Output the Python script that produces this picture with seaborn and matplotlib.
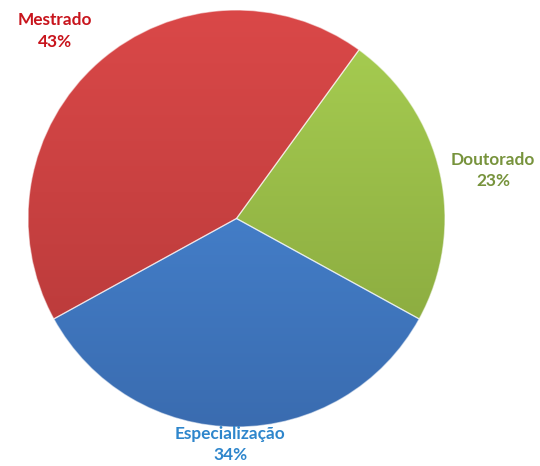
import numpy as np
import matplotlib
matplotlib.use("Agg")
import matplotlib.pyplot as plt
import seaborn as sns
from matplotlib.colors import LinearSegmentedColormap

categories = ["Doutorado", "Especialização", "Mestrado"]
values = [23, 34, 43]
labels = [f"{c}\n{v}%" for c, v in zip(categories, values)]

top_colors = ["#A8CF52", "#4C8EDE", "#DA4848"]
bottom_colors = ["#84A23B", "#3A6CB0", "#B33838"]
text_colors = ["#77933C", "#2E86CC", "#C8141C"]
label_pos = [(1.23, 0.23), (-0.03, -1.085), (-0.87, 0.90)]

sns.set_theme(style="white")
plt.rcParams["font.family"] = ["Lato", "DejaVu Sans"]

W, H = 540, 466
fig = plt.figure(figsize=(W / 100, H / 100), dpi=100)
fig.patch.set_facecolor("white")
left, right, top, bottom = 28, 445, 10, 427
ax = fig.add_axes([left / W, (H - bottom) / H, (right - left) / W, (bottom - top) / H])

wedges, _ = ax.pie(values, startangle=54, counterclock=False, radius=1.0,
                   colors=top_colors,
                   wedgeprops=dict(edgecolor=(1, 1, 1, 0.55), linewidth=0.9))

grad = np.linspace(0, 1, 256).reshape(-1, 1)
for w, tc, bc in zip(wedges, top_colors, bottom_colors):
    cmap = LinearSegmentedColormap.from_list("g", [tc, bc])
    im = ax.imshow(grad, cmap=cmap, extent=[-1, 1, -1, 1], origin="upper",
                   aspect="auto", zorder=w.get_zorder() - 0.05)
    im.set_clip_path(w)
    w.set_facecolor("none")
    w.set_zorder(im.get_zorder() + 0.1)

for lab, (x, y), col in zip(labels, label_pos, text_colors):
    ax.text(x, y, lab, ha="center", va="center", color=col, fontsize=12.4,
            fontweight="bold", linespacing=1.42)

ax.set_xlim(-1, 1)
ax.set_ylim(-1, 1)
ax.set_aspect("auto")
ax.axis("off")

fig.savefig("out.png", dpi=100, facecolor="white")
